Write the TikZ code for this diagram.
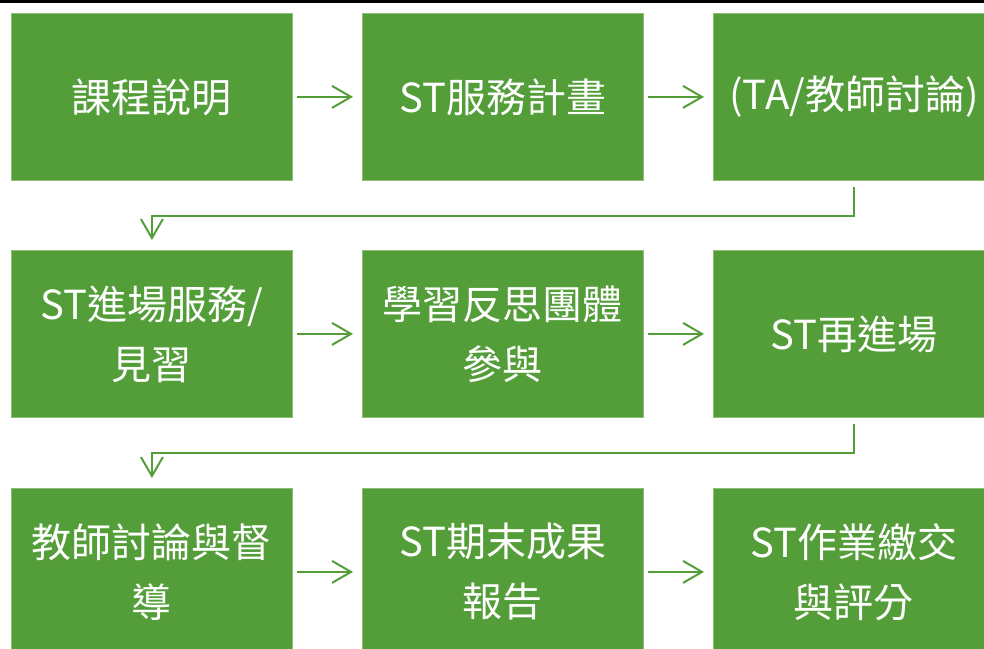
\documentclass[tikz,border=0pt]{standalone}
\usepackage{fontspec}
\setmainfont{Noto Sans CJK TC}
\usetikzlibrary{arrows.meta}
\definecolor{gbox}{RGB}{84,158,58}
\definecolor{gedge}{RGB}{140,190,120}
\begin{document}
\begin{tikzpicture}[x=1pt,y=-1pt,
  box/.style={rectangle, fill=gbox, draw=gedge, line width=0.8pt,
    minimum width=281pt, minimum height=167pt, inner sep=0pt,
    anchor=north west, align=center, text=white,
    font=\fontsize{40}{60}\selectfont},
  conn/.style={draw=gbox, line width=2pt,
    -{Straight Barb[length=19pt,width=22pt,line width=2pt]}},
  hconn/.style={conn, shorten <=4pt, shorten >=9pt},
  vconn/.style={conn, shorten <=6pt, shorten >=10pt}]
\useasboundingbox (0,0) rectangle (984,648);
\clip (0,0) rectangle (984,648);
\fill[black] (0,0) rectangle (984,3);
% row 1
\node[box] (b1) at (11,13) {課程說明};
\node[box] (b2) at (362,13) {ST服務計畫};
\node[box] (b3) at (713,13) {(TA/教師討論)};
% row 2
\node[box] (b4) at (11,250) {ST進場服務/\\見習};
\node[box] (b5) at (362,250) {學習反思團體\\參與};
\node[box] (b6) at (713,250) {ST再進場};
% row 3
\node[box] (b7) at (11,488) {教師討論與督\\導};
\node[box] (b8) at (362,488) {ST期末成果\\報告};
\node[box] (b9) at (713,488) {ST作業繳交\\與評分};
% connectors
\draw[hconn] (b1.east) -- (b2.west);
\draw[hconn] (b2.east) -- (b3.west);
\draw[vconn] (b3.south) -- ++(0,35) -| (b4.north);
\draw[hconn] (b4.east) -- (b5.west);
\draw[hconn] (b5.east) -- (b6.west);
\draw[vconn] (b6.south) -- ++(0,35) -| (b7.north);
\draw[hconn] (b7.east) -- (b8.west);
\draw[hconn] (b8.east) -- (b9.west);
\end{tikzpicture}
\end{document}
